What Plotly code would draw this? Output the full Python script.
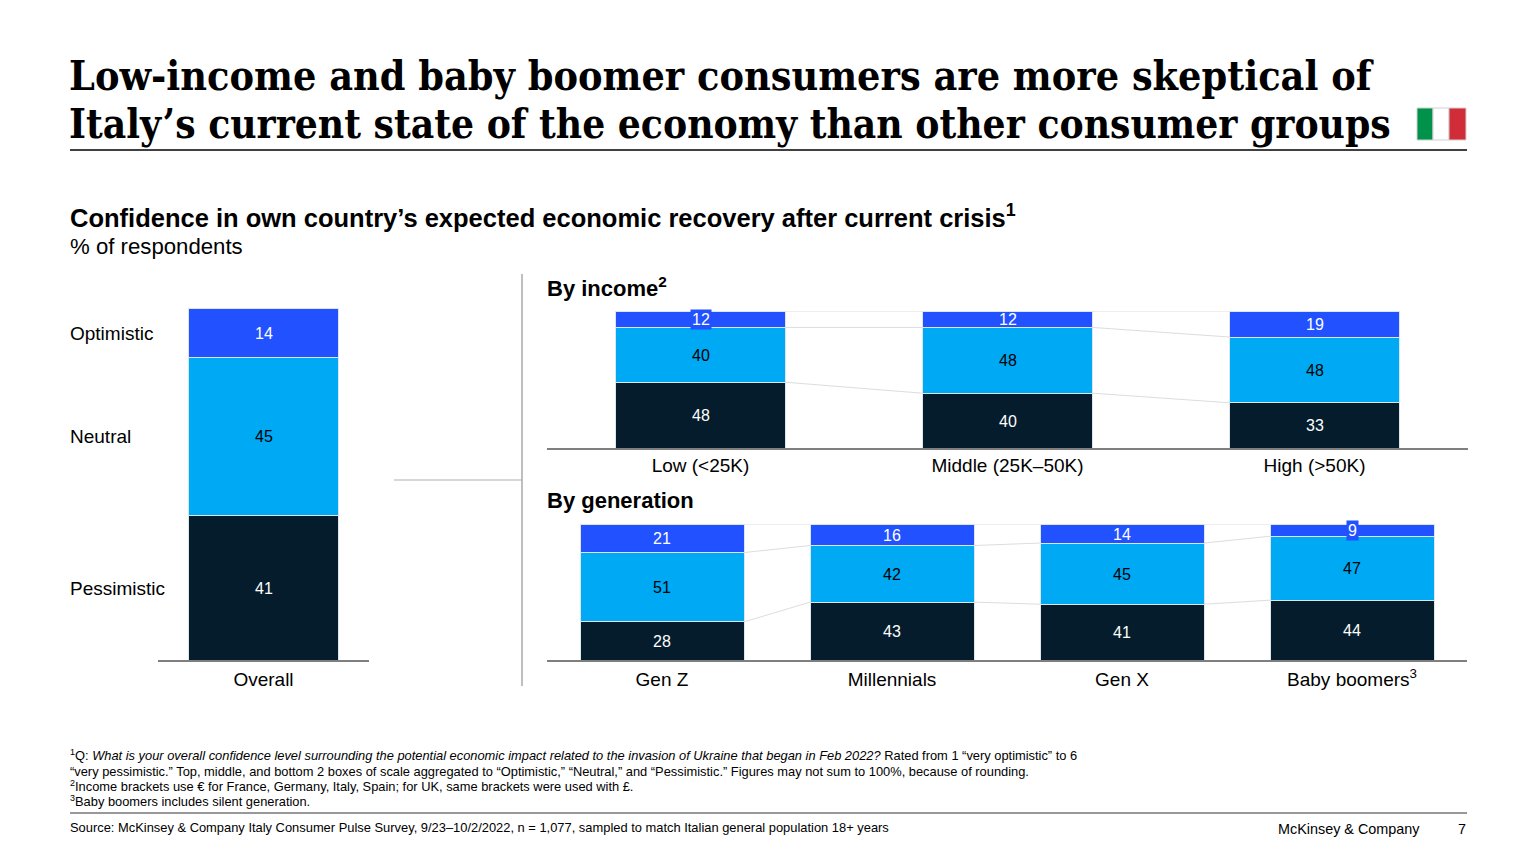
import plotly.graph_objects as go

# values, stacked from the bottom: pessimistic, neutral, optimistic
overall_cat = ["Overall"]
overall_pess = [41]
overall_neut = [45]
overall_opt = [14]

income_cat = ["Low (<25K)", "Middle (25K–50K)", "High (>50K)"]
income_pess = [48, 40, 33]
income_neut = [40, 48, 48]
income_opt = [12, 12, 19]

gen_cat = ["Gen Z", "Millennials", "Gen X", "Baby boomers<sup>3</sup>"]
gen_pess = [28, 43, 41, 44]
gen_neut = [51, 42, 45, 47]
gen_opt = [21, 16, 14, 9]

row_names = ["Pessimistic", "Neutral", "Optimistic"]

NAVY = "#051C2C"
CYAN = "#00A9F4"
BLUE = "#2251FF"
SANS = "Liberation Sans"
W, H = 1536, 864


def px(x):
    return x / W


def py(y):
    return 1 - y / H


fig = go.Figure()
annots = []
shapes = []


def add_group(xname, yname, cats, pess, neut, opt, bar_w, boxed=()):
    xs = list(range(len(cats)))
    for name, vals, col in zip(row_names, [pess, neut, opt], [NAVY, CYAN, BLUE]):
        fig.add_trace(go.Bar(x=xs, y=vals, name=name, xaxis=xname, yaxis=yname, width=bar_w,
                             marker=dict(color=col, line=dict(color="#DCE6EE", width=1)),
                             showlegend=False, hoverinfo="skip"))
    # totals can be 101, so everything is normalised like the bars (barnorm)
    totals = [a + b + c for a, b, c in zip(pess, neut, opt)]
    low = [a / t * 100 for a, t in zip(pess, totals)]
    mid = [(a + b) / t * 100 for a, b, t in zip(pess, neut, totals)]
    top = [100 for t in totals]
    for level in [low, mid, top]:
        for i in xs[:-1]:
            fig.add_trace(go.Scatter(x=[i + bar_w / 2, i + 1 - bar_w / 2], y=[level[i], level[i + 1]],
                                     mode="lines", line=dict(color="#DDDDDD", width=1),
                                     xaxis=xname, yaxis=yname, showlegend=False, hoverinfo="skip"))
    # segment labels
    for i in xs:
        t = totals[i]
        a, b, c = pess[i], neut[i], opt[i]
        centres = [a / 2 / t * 100, (a + b / 2) / t * 100, (a + b + c / 2) / t * 100]
        for val, yc, col, bg in zip([a, b, c], centres, ["white", "black", "white"], [None, None, BLUE]):
            box = bg if i in boxed else None
            annots.append(dict(x=i, y=yc, xref=xname, yref=yname, text=str(val), showarrow=False, yshift=-0.5,
                               font=dict(family=SANS, size=16, color=col), bgcolor=box, borderpad=1))


add_group("x", "y", overall_cat, overall_pess, overall_neut, overall_opt, 150 / 211)
add_group("x2", "y2", income_cat, income_pess, income_neut, income_opt, 170 / 307, boxed=[0])
add_group("x3", "y3", gen_cat, gen_pess, gen_neut, gen_opt, 164 / 230, boxed=[3])


def text(x, y, s, size, color="black", family=SANS, anchor="left"):
    annots.append(dict(x=px(x), y=py(y), xref="paper", yref="paper", text=s, showarrow=False,
                       xanchor=anchor, yanchor="middle", align="left", borderpad=0, borderwidth=0,
                       font=dict(family=family, size=size, color=color)))


def line(x0, y0, x1, y1, color="black", width=1):
    shapes.append(dict(type="line", xref="paper", yref="paper", x0=px(x0), x1=px(x1), y0=py(y0), y1=py(y1),
                       line=dict(color=color, width=width)))


def rect(x0, y0, x1, y1, color):
    shapes.append(dict(type="rect", xref="paper", yref="paper", x0=px(x0), x1=px(x1), y0=py(y0), y1=py(y1),
                       fillcolor=color, line=dict(color="#D0D0D0", width=1)))


# headline
TITLE_FONT = "DejaVu Serif Condensed"
text(69, 76, "<b>Low-income and baby boomer consumers are more skeptical of</b>", 40.9, family=TITLE_FONT)
text(69, 124, "<b>Italy’s current state of the economy than other consumer groups</b>", 40.3, family=TITLE_FONT)
line(70, 150, 1467, 150, width=1.3)

# flag
rect(1417, 108, 1433, 140, "#00924A")
rect(1433, 108, 1449, 140, "#FFFFFF")
rect(1449, 108, 1466, 140, "#D12D39")

text(70, 216, "<b>Confidence in own country’s expected economic recovery after current crisis<sup>1</sup></b>", 25.5)
text(70, 246, "% of respondents", 22.2)
text(547, 287, "<b>By income<sup>2</sup></b>", 22)
text(547, 500, "<b>By generation</b>", 22)

# row names next to the overall bar
tot = overall_pess[0] + overall_neut[0] + overall_opt[0]
row_mid = [overall_pess[0] / 2, overall_pess[0] + overall_neut[0] / 2,
           overall_pess[0] + overall_neut[0] + overall_opt[0] / 2]
for name, v in zip(row_names, row_mid):
    annots.append(dict(x=px(70), xref="paper", y=v / tot * 100, yref="y", text=name, showarrow=False,
                       xanchor="left", yshift=-0.5, borderpad=0, borderwidth=0,
                       font=dict(family=SANS, size=19, color="black")))

line(522, 274, 522, 686, color="#7F7F7F")
line(394, 480, 522, 480, color="#AFAFAF")

# footnotes
text(70, 755, "<sup>1</sup>Q: <i>What is your overall confidence level surrounding the potential economic impact related to the invasion of Ukraine that began in Feb 2022?</i> Rated from 1 “very optimistic” to 6", 12.87)
text(70, 771, "“very pessimistic.” Top, middle, and bottom 2 boxes of scale aggregated to “Optimistic,” “Neutral,” and “Pessimistic.” Figures may not sum to 100%, because of rounding.", 12.87)
text(70, 786, "<sup>2</sup>Income brackets use € for France, Germany, Italy, Spain; for UK, same brackets were used with £.", 12.87)
text(70, 801, "<sup>3</sup>Baby boomers includes silent generation.", 12.87)
line(70, 813, 1467, 813, color="#333333")
text(70, 827, "Source: McKinsey & Company Italy Consumer Pulse Survey, 9/23–10/2/2022, n = 1,077, sampled to match Italian general population 18+ years", 12.9)
text(1278, 829, "McKinsey & Company", 14.4)
text(1458, 829, "7", 14.4)


def x_axis(cats, x0, x1, anchor, standoff):
    return dict(domain=[px(x0), px(x1)], range=[-0.5, len(cats) - 0.5], anchor=anchor,
                tickmode="array", tickvals=list(range(len(cats))), ticktext=cats,
                showgrid=False, zeroline=False, showline=True, linecolor="#7F7F7F", linewidth=1.5,
                ticks="", ticklabelstandoff=standoff, tickfont=dict(family=SANS, size=19, color="black"),
                fixedrange=True)


def y_axis(top, bottom, anchor):
    return dict(domain=[py(bottom), py(top)], range=[0, 100], anchor=anchor, visible=False, fixedrange=True)


fig.update_layout(
    width=W, height=H, margin=dict(l=0, r=0, t=0, b=0),
    paper_bgcolor="white", plot_bgcolor="white",
    barmode="stack", barnorm="percent", showlegend=False,
    xaxis=x_axis(overall_cat, 158, 369, "y", 1), yaxis=y_axis(308, 660, "x"),
    xaxis2=x_axis(income_cat, 547, 1468, "y2", -1), yaxis2=y_axis(311, 448, "x2"),
    xaxis3=x_axis(gen_cat, 547, 1467, "y3", 1), yaxis3=y_axis(524, 660, "x3"),
    annotations=annots, shapes=shapes,
)

fig.write_html("out.html", config={"displayModeBar": False}, post_script="document.body.style.margin='0';")
